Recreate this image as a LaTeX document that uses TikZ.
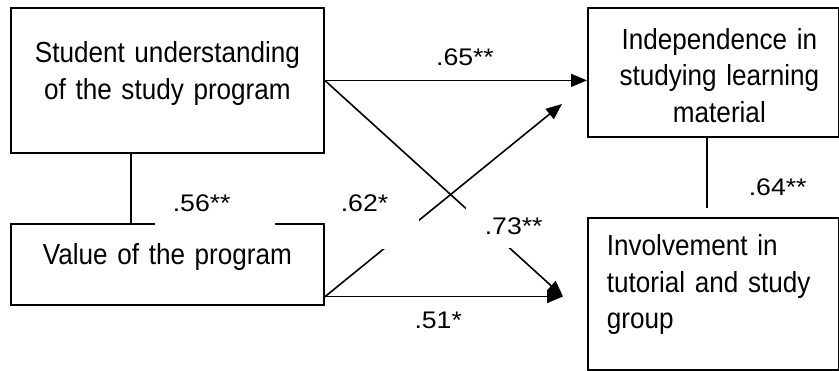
\documentclass[tikz,border=0pt]{standalone}
\usepackage{fontspec}
\usetikzlibrary{arrows.meta}
\newfontfamily\boxfont[FakeStretch=0.9]{Liberation Sans}
\newfontfamily\labfont[FakeStretch=1.11]{Liberation Sans}
\tikzset{
  var/.style={draw, line width=1.8pt, anchor=north west, inner sep=0pt,
    font=\boxfont\fontsize{29}{36.5}\selectfont},
  link/.style={line width=1.6pt},
  arr/.style={link, -{Triangle[length=16pt,width=13pt]}},
  coef/.style={anchor=base west, inner sep=0pt,
    font=\labfont\fontsize{24}{28}\selectfont},
  coefbox/.style={anchor=north west, inner sep=0pt, fill=white, align=left,
    font=\labfont\fontsize{24}{28}\selectfont},
}
\begin{document}
\begin{tikzpicture}[x=1pt,y=-1pt]
\useasboundingbox (0,0) rectangle (839,371);

% variables
\node[var, text width=313pt, align=center, text height=54.7pt, text depth=90.3pt]
  (A) at (10,7) {Student understanding\\of the study program};
\node[var, text width=313pt, align=center, text height=40.3pt, text depth=40.7pt]
  (B) at (10,223) {Value of the program};
\node[var, text width=251pt, text height=41.3pt, text depth=87.7pt]
  (C) at (587,7) {\centering\leftskip=12pt plus 1fil\relax
    Independence in\\studying learning\\material\par};
\node[var, text width=213pt, inner xsep=19pt, align=left, text height=38pt, text depth=114.5pt]
  (D) at (587,217) {Involvement in\\tutorial and study\\group};

% free ends of the paths
\coordinate (ab) at (131,0);
\coordinate (cd) at (707,208);
\coordinate (tipC) at (562,104);
\coordinate (tipD) at (563,296.5);

% paths
\draw[link] (A.south -| ab) -- (B.north -| ab);
\draw[link] (C.south -| cd) -- (cd);
\draw[arr] (A.east) -- (A.east -| C.west);
\draw[arr] (A.east) -- (tipD);
\draw[arr] ([yshift=9pt]B.south east) -- (tipC);
\draw[arr] (B.east |- tipD) -- (tipD);

% coefficients
\node[coefbox, text width=120pt, text height=28.7pt, text depth=15.3pt]
  (r56) at (155,183) {\hspace*{17.6pt}.56**};
\node[coefbox, text width=94pt, text height=26.7pt, text depth=37.3pt]
  (r62) at (325,185) {\hspace*{15.6pt}.62*};
\node[coefbox, text width=121pt, text height=34pt, text depth=14pt]
  (r73) at (466,200) {\hspace*{18.6pt}.73**};
\node[coef] (r65) at (435.9,66) {.65**};
\node[coef] (r64) at (748.6,196) {.64**};
\node[coef] (r51) at (414.3,329) {.51*};
\end{tikzpicture}
\end{document}
